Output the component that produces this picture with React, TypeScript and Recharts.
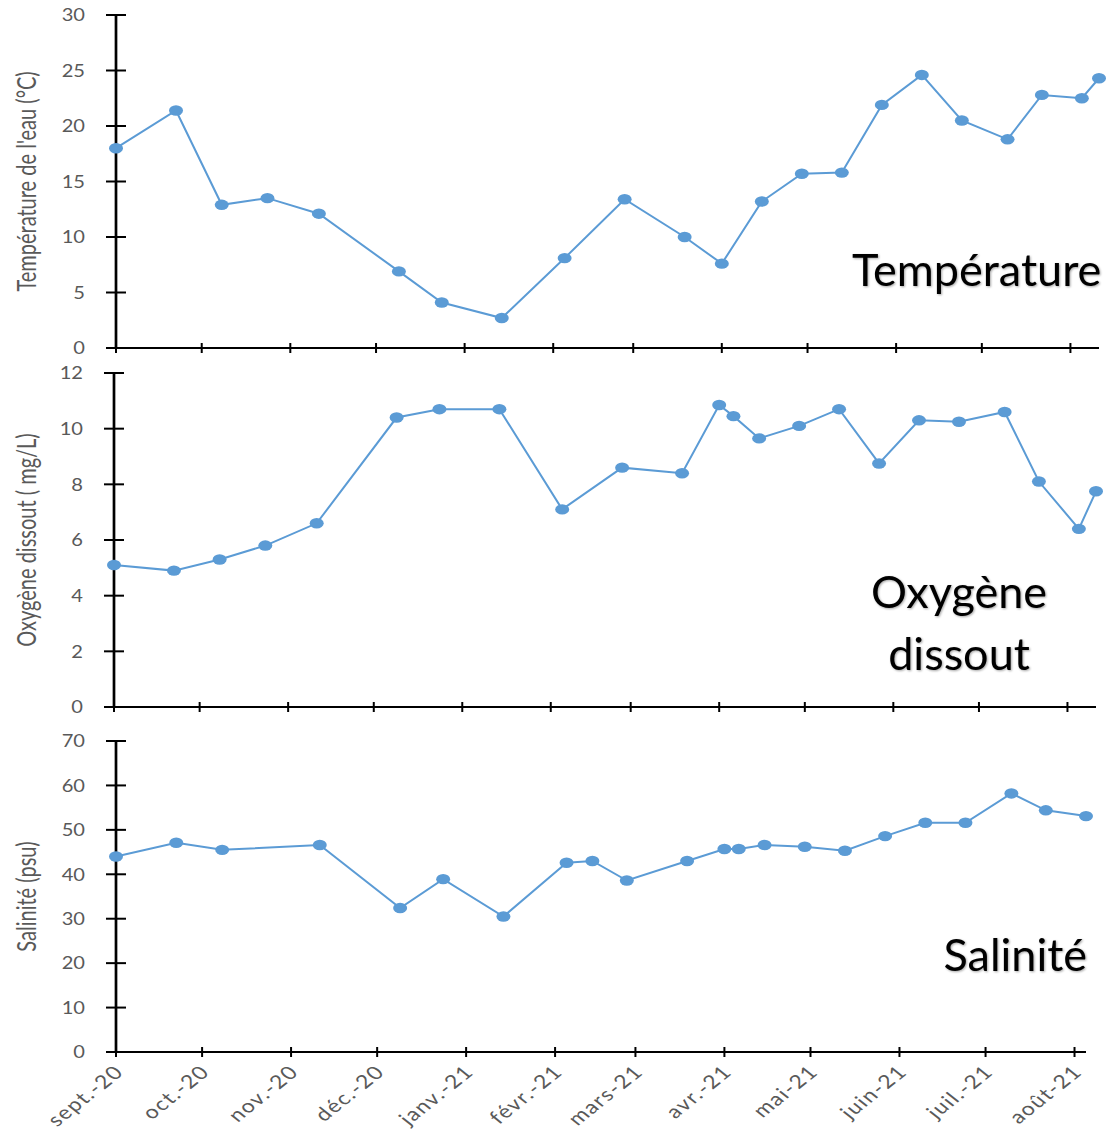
import React from "react";
import { LineChart, Line, XAxis, YAxis } from "recharts";

// sampling dates (a null means the parameter was not measured that day)
const dates = [
  "2020-09-01", "2020-09-22", "2020-10-08", "2020-10-24", "2020-11-11",
  "2020-12-09", "2020-12-24", "2021-01-14", "2021-02-05", "2021-02-14",
  "2021-02-26", "2021-03-19", "2021-04-01", "2021-04-06", "2021-04-15",
  "2021-04-29", "2021-05-13", "2021-05-27", "2021-06-10", "2021-06-24",
  "2021-07-10", "2021-07-22", "2021-08-05", "2021-08-11",
];

const temperature = [
  18.0, 21.4, 12.9, 13.5, 12.1, 6.9, 4.1, 2.7, 8.1, null, 13.4, 10.0,
  7.6, null, 13.2, 15.7, 15.8, 21.9, 24.6, 20.5, 18.8, 22.8, 22.5, 24.3,
];

const oxygen = [
  5.1, 4.9, 5.3, 5.8, 6.6, 10.4, 10.7, 10.7, 7.1, null, 8.6, 8.4,
  10.85, 10.45, 9.65, 10.1, 10.7, 8.75, 10.3, 10.25, 10.6, 8.1, 6.4, 7.75,
];

const salinity = [
  44.0, 47.1, 45.5, null, 46.6, 32.4, 38.9, 30.5, 42.6, 43.0, 38.6, 43.0,
  45.7, 45.7, 46.6, 46.2, 45.3, 48.6, 51.6, 51.6, 58.2, 54.4, 53.1, null,
];

const monthTicks = [
  "2020-09-01", "2020-10-01", "2020-11-01", "2020-12-01", "2021-01-01",
  "2021-02-01", "2021-03-01", "2021-04-01", "2021-05-01", "2021-06-01",
  "2021-07-01", "2021-08-01",
];
const monthLabels = [
  "sept.-20", "oct.-20", "nov.-20", "déc.-20", "janv.-21", "févr.-21",
  "mars-21", "avr.-21", "mai-21", "juin-21", "juil.-21", "août-21",
];

const tempTicks = [0, 5, 10, 15, 20, 25, 30];
const oxyTicks = [0, 2, 4, 6, 8, 10, 12];
const salTicks = [0, 10, 20, 30, 40, 50, 60, 70];

const BLUE = "#5B9BD5";
const GREY = "#595959";
const TICK_FONT = "Lato, 'Liberation Sans', sans-serif";
const STRETCH = 1.35; // the source picture is stretched horizontally

const toTime = (d: string) => Date.parse(d + "T00:00:00Z");
const monthTimes = monthTicks.map(toTime);

const seriesRows = (values: (number | null)[]) =>
  dates
    .map((d, i) => ({ t: toTime(d), v: values[i] }))
    .filter((r) => r.v !== null);

const Dot = (props: any) => {
  const { cx, cy, index } = props;
  return <ellipse key={index} cx={cx} cy={cy} rx={7} ry={5.2} fill={BLUE} />;
};

const YTick = (props: any) => {
  const { x, y, payload } = props;
  const tx = x - 31;
  return (
    <g>
      <line x1={x - 10} x2={x + 10} y1={y} y2={y} stroke="#000" strokeWidth={2} />
      <text
        x={tx}
        y={y}
        dy="0.36em"
        textAnchor="end"
        fill={GREY}
        fontSize={17.5}
        fontFamily={TICK_FONT}
        transform={`translate(${tx * (1 - 1.15)},0) scale(1.15,1)`}
      >
        {payload.value}
      </text>
    </g>
  );
};

const makeXTick = (showLabel: boolean) => (props: any) => {
  const { x, y, payload } = props;
  const idx = monthTimes.indexOf(payload.value);
  return (
    <g>
      <line x1={x} x2={x} y1={y - 5} y2={y + 5} stroke="#000" strokeWidth={2} />
      {showLabel && (
        <text
          transform={`translate(${x + 9},${y + 21}) scale(1.25,1) rotate(-45)`}
          textAnchor="end"
          fill={GREY}
          fontSize={18.5}
          letterSpacing={1.2}
          fontFamily={TICK_FONT}
        >
          {monthLabels[idx] ?? ""}
        </text>
      )}
    </g>
  );
};

const AxisTitle = (props: any) => {
  const { viewBox, text } = props;
  const cy = viewBox.y + viewBox.height / 2;
  return (
    <text
      transform={`translate(27,${cy}) scale(${STRETCH},1) rotate(-90)`}
      dy="0.35em"
      textAnchor="middle"
      fill={GREY}
      fontSize={20}
      fontFamily={TICK_FONT}
    >
      {text}
    </text>
  );
};

type PanelProps = {
  values: (number | null)[];
  height: number;
  margin: { top: number; right: number; bottom: number; left: number };
  axisWidth: number;
  xAxisHeight: number;
  yMax: number;
  yTicks: number[];
  yTitle: string;
  showLabels: boolean;
};

function Panel(p: PanelProps) {
  return (
    <LineChart width={1109} height={p.height} data={seriesRows(p.values)} margin={p.margin}>
      <XAxis
        dataKey="t"
        type="number"
        domain={["dataMin", "dataMax"]}
        ticks={monthTimes}
        interval={0}
        tickSize={0}
        tickMargin={0}
        height={p.xAxisHeight}
        axisLine={{ stroke: "#000", strokeWidth: 2 }}
        tickLine={false}
        tick={makeXTick(p.showLabels)}
      />
      <YAxis
        type="number"
        domain={[0, p.yMax]}
        ticks={p.yTicks}
        interval={0}
        tickSize={0}
        tickMargin={0}
        width={p.axisWidth}
        axisLine={{ stroke: "#000", strokeWidth: 2.7 }}
        tickLine={false}
        tick={<YTick />}
        label={<AxisTitle text={p.yTitle} />}
      />
      <Line
        type="linear"
        dataKey="v"
        stroke={BLUE}
        strokeWidth={2}
        dot={Dot}
        activeDot={false}
        isAnimationActive={false}
      />
    </LineChart>
  );
}

const titleStyle = {
  fontFamily: "Lato, 'Open Sans', sans-serif",
  fontSize: 45,
  fill: "#000",
  style: { filter: "drop-shadow(1px 1px 1px rgba(0,0,0,0.35))" },
};

export default function App() {
  return (
    <div style={{ position: "absolute", left: 0, top: 0, width: 1109, height: 1131, background: "#fff" }}>
      <Panel
        values={temperature}
        height={360}
        margin={{ top: 15, right: 10, bottom: 0, left: 0 }}
        axisWidth={116}
        xAxisHeight={12}
        yMax={30}
        yTicks={tempTicks}
        yTitle="Température de l'eau (°C)"
        showLabels={false}
      />
      <Panel
        values={oxygen}
        height={359}
        margin={{ top: 13, right: 13, bottom: 0, left: 0 }}
        axisWidth={114}
        xAxisHeight={12}
        yMax={12}
        yTicks={oxyTicks}
        yTitle="Oxygène dissout ( mg/L)"
        showLabels={false}
      />
      <Panel
        values={salinity}
        height={412}
        margin={{ top: 22, right: 23, bottom: 0, left: 0 }}
        axisWidth={116}
        xAxisHeight={79}
        yMax={70}
        yTicks={salTicks}
        yTitle="Salinité (psu)"
        showLabels={true}
      />
      <svg
        width={1109}
        height={1131}
        style={{ position: "absolute", left: 0, top: 0, pointerEvents: "none" }}
      >
        <text x={852} y={286} {...titleStyle}>Température</text>
        <text x={959} y={608} textAnchor="middle" {...titleStyle}>Oxygène</text>
        <text x={959} y={670} textAnchor="middle" {...titleStyle}>dissout</text>
        <text x={1087} y={971} textAnchor="end" {...titleStyle}>Salinité</text>
      </svg>
    </div>
  );
}
